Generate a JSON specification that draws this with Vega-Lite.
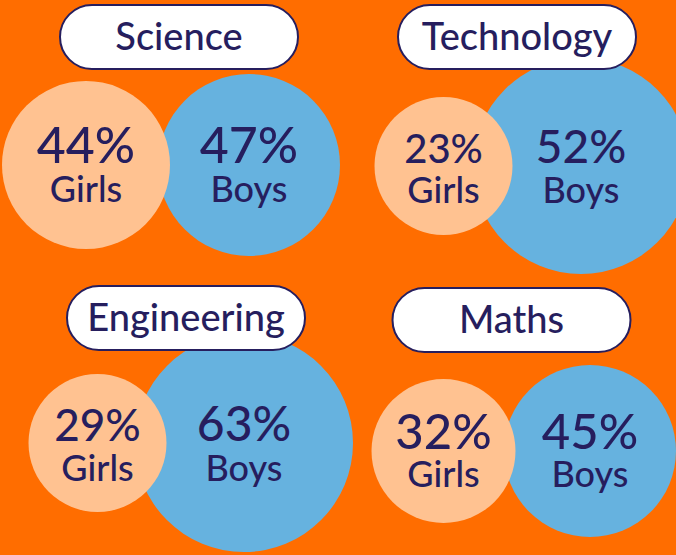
{
  "$schema": "https://vega.github.io/schema/vega-lite/v6.json",
  "background": "#FF6D00",
  "padding": 0,
  "spacing": 0,
  "config": {"view": {"stroke": null}, "font": "Lato", "text": {"fontWeight": 500}, "concat": {"spacing": 0}},
  "datasets": {
    "shares": [
      {"subject": "Science", "gender": "Girls", "share": 0.44},
      {"subject": "Science", "gender": "Boys", "share": 0.47},
      {"subject": "Technology", "gender": "Girls", "share": 0.23},
      {"subject": "Technology", "gender": "Boys", "share": 0.52},
      {"subject": "Engineering", "gender": "Girls", "share": 0.29},
      {"subject": "Engineering", "gender": "Boys", "share": 0.63},
      {"subject": "Maths", "gender": "Girls", "share": 0.32},
      {"subject": "Maths", "gender": "Boys", "share": 0.45}
    ],
    "subjects": [
      {"subject": "Science"},
      {"subject": "Technology"},
      {"subject": "Engineering"},
      {"subject": "Maths"}
    ]
  },
  "vconcat": [
    {
      "spacing": 0,
      "bounds": "flush",
      "hconcat": [
        {
          "width": 358, "height": 278,
          "resolve": {"scale": {"size": "independent"}},
          "layer": [
            {
              "data": {"name": "shares"},
              "transform": [{"filter": "datum.subject === 'Science'"}],
              "mark": {"type": "point", "shape": "circle", "filled": true, "opacity": 1, "strokeWidth": 0},
              "encoding": {
                "x": {"field": "gender", "type": "nominal", "scale": {"type": "point", "padding": 0, "domain": ["Girls", "Boys"], "range": [86, 249]}, "axis": null},
                "y": {"datum": "figure", "type": "nominal", "scale": {"type": "point", "padding": 0, "domain": ["title", "figure"], "range": [34, 162]}, "axis": null},
                "size": {"field": "share", "type": "quantitative", "scale": {"domain": [0.44, 0.47], "range": [28224, 33124]}, "legend": null},
                "color": {"field": "gender", "type": "nominal", "scale": {"domain": ["Girls", "Boys"], "range": ["#FFC291", "#66B2DF"]}, "legend": null},
                "order": {"field": "gender", "type": "nominal", "sort": "ascending"}
              }
            },
            {
              "data": {"name": "shares"},
              "transform": [{"filter": "datum.subject === 'Science'"}],
              "mark": {"type": "text", "baseline": "alphabetic", "align": "center", "dy": -2, "fontSize": 50, "color": "#261E5E"},
              "encoding": {
                "x": {"field": "gender", "type": "nominal"},
                "y": {"datum": "figure", "type": "nominal"},
                "text": {"field": "share", "type": "quantitative", "format": ".0%"}
              }
            },
            {
              "data": {"name": "shares"},
              "transform": [{"filter": "datum.subject === 'Science'"}],
              "mark": {"type": "text", "baseline": "alphabetic", "align": "center", "dy": 37, "fontSize": 36, "color": "#261E5E"},
              "encoding": {
                "x": {"field": "gender", "type": "nominal"},
                "y": {"datum": "figure", "type": "nominal"},
                "text": {"field": "gender", "type": "nominal"}
              }
            },
            {
              "data": {"name": "subjects"},
              "transform": [{"filter": "datum.subject === 'Science'"}],
              "mark": {"type": "point", "shape": "M -0.731 -0.269 L 0.731 -0.269 C 0.8796 -0.269 1 -0.1486 1 0 C 1 0.1486 0.8796 0.269 0.731 0.269 L -0.731 0.269 C -0.8796 0.269 -1 0.1486 -1 0 C -1 -0.1486 -0.8796 -0.269 -0.731 -0.269 Z", "filled": true, "fill": "#FFFFFF", "stroke": "#261E5E", "strokeWidth": 2, "opacity": 1, "size": 56644},
              "encoding": {
                "y": {"datum": "title", "type": "nominal"}
              }
            },
            {
              "data": {"name": "subjects"},
              "transform": [{"filter": "datum.subject === 'Science'"}],
              "mark": {"type": "text", "baseline": "alphabetic", "align": "center", "dy": 13, "fontSize": 38, "color": "#261E5E"},
              "encoding": {
                "y": {"datum": "title", "type": "nominal"},
                "text": {"field": "subject", "type": "nominal"}
              }
            }
          ]
        },
        {
          "width": 318, "height": 278,
          "resolve": {"scale": {"size": "independent"}},
          "layer": [
            {
              "data": {"name": "shares"},
              "transform": [{"filter": "datum.subject === 'Technology'"}],
              "mark": {"type": "point", "shape": "circle", "filled": true, "opacity": 1, "strokeWidth": 0, "clip": true},
              "encoding": {
                "x": {"field": "gender", "type": "nominal", "scale": {"type": "point", "padding": 0, "domain": ["Girls", "Boys"], "range": [85.5, 223]}, "axis": null},
                "y": {"datum": "figure", "type": "nominal", "scale": {"type": "point", "padding": 0, "domain": ["title", "figure"], "range": [34, 163]}, "axis": null},
                "size": {"field": "share", "type": "quantitative", "scale": {"domain": [0.23, 0.52], "range": [19044, 46656]}, "legend": null},
                "color": {"field": "gender", "type": "nominal", "scale": {"domain": ["Girls", "Boys"], "range": ["#FFC291", "#66B2DF"]}, "legend": null},
                "order": {"field": "gender", "type": "nominal", "sort": "ascending"}
              }
            },
            {
              "data": {"name": "shares"},
              "transform": [{"filter": "datum.subject === 'Technology'"}],
              "mark": {"type": "text", "baseline": "alphabetic", "align": "center", "dy": -3, "color": "#261E5E"},
              "encoding": {
                "x": {"field": "gender", "type": "nominal"},
                "y": {"datum": "figure", "type": "nominal"},
                "text": {"field": "share", "type": "quantitative", "format": ".0%"},
                "size": {"field": "share", "type": "quantitative", "scale": {"domain": [0.23, 0.52], "range": [40, 46]}, "legend": null}
              }
            },
            {
              "data": {"name": "shares"},
              "transform": [{"filter": "datum.subject === 'Technology'"}],
              "mark": {"type": "text", "baseline": "alphabetic", "align": "center", "dy": 37, "fontSize": 36, "color": "#261E5E"},
              "encoding": {
                "x": {"field": "gender", "type": "nominal"},
                "y": {"datum": "figure", "type": "nominal"},
                "text": {"field": "gender", "type": "nominal"}
              }
            },
            {
              "data": {"name": "subjects"},
              "transform": [{"filter": "datum.subject === 'Technology'"}],
              "mark": {"type": "point", "shape": "M -0.731 -0.269 L 0.731 -0.269 C 0.8796 -0.269 1 -0.1486 1 0 C 1 0.1486 0.8796 0.269 0.731 0.269 L -0.731 0.269 C -0.8796 0.269 -1 0.1486 -1 0 C -1 -0.1486 -0.8796 -0.269 -0.731 -0.269 Z", "filled": true, "fill": "#FFFFFF", "stroke": "#261E5E", "strokeWidth": 2, "opacity": 1, "size": 56644},
              "encoding": {
                "y": {"datum": "title", "type": "nominal"}
              }
            },
            {
              "data": {"name": "subjects"},
              "transform": [{"filter": "datum.subject === 'Technology'"}],
              "mark": {"type": "text", "baseline": "alphabetic", "align": "center", "dy": 13, "fontSize": 38, "color": "#261E5E"},
              "encoding": {
                "y": {"datum": "title", "type": "nominal"},
                "text": {"field": "subject", "type": "nominal"}
              }
            }
          ]
        }
      ]
    },
    {
      "spacing": 0,
      "bounds": "flush",
      "hconcat": [
        {
          "width": 372, "height": 277,
          "resolve": {"scale": {"size": "independent"}},
          "layer": [
            {
              "data": {"name": "shares"},
              "transform": [{"filter": "datum.subject === 'Engineering'"}],
              "mark": {"type": "point", "shape": "circle", "filled": true, "opacity": 1, "strokeWidth": 0},
              "encoding": {
                "x": {"field": "gender", "type": "nominal", "scale": {"type": "point", "padding": 0, "domain": ["Girls", "Boys"], "range": [97.5, 244]}, "axis": null},
                "y": {"datum": "figure", "type": "nominal", "scale": {"type": "point", "padding": 0, "domain": ["title", "figure"], "range": [37, 162]}, "axis": null},
                "size": {"field": "share", "type": "quantitative", "scale": {"domain": [0.29, 0.63], "range": [19044, 47524]}, "legend": null},
                "color": {"field": "gender", "type": "nominal", "scale": {"domain": ["Girls", "Boys"], "range": ["#FFC291", "#66B2DF"]}, "legend": null},
                "order": {"field": "gender", "type": "nominal", "sort": "ascending"}
              }
            },
            {
              "data": {"name": "shares"},
              "transform": [{"filter": "datum.subject === 'Engineering'"}],
              "mark": {"type": "text", "baseline": "alphabetic", "align": "center", "dy": -2, "color": "#261E5E"},
              "encoding": {
                "x": {"field": "gender", "type": "nominal"},
                "y": {"datum": "figure", "type": "nominal"},
                "text": {"field": "share", "type": "quantitative", "format": ".0%"},
                "size": {"field": "share", "type": "quantitative", "scale": {"domain": [0.29, 0.63], "range": [44, 48]}, "legend": null}
              }
            },
            {
              "data": {"name": "shares"},
              "transform": [{"filter": "datum.subject === 'Engineering'"}],
              "mark": {"type": "text", "baseline": "alphabetic", "align": "center", "dy": 38, "fontSize": 36, "color": "#261E5E"},
              "encoding": {
                "x": {"field": "gender", "type": "nominal"},
                "y": {"datum": "figure", "type": "nominal"},
                "text": {"field": "gender", "type": "nominal"}
              }
            },
            {
              "data": {"name": "subjects"},
              "transform": [{"filter": "datum.subject === 'Engineering'"}],
              "mark": {"type": "point", "shape": "M -0.731 -0.269 L 0.731 -0.269 C 0.8796 -0.269 1 -0.1486 1 0 C 1 0.1486 0.8796 0.269 0.731 0.269 L -0.731 0.269 C -0.8796 0.269 -1 0.1486 -1 0 C -1 -0.1486 -0.8796 -0.269 -0.731 -0.269 Z", "filled": true, "fill": "#FFFFFF", "stroke": "#261E5E", "strokeWidth": 2, "opacity": 1, "size": 56644},
              "encoding": {
                "y": {"datum": "title", "type": "nominal"}
              }
            },
            {
              "data": {"name": "subjects"},
              "transform": [{"filter": "datum.subject === 'Engineering'"}],
              "mark": {"type": "text", "baseline": "alphabetic", "align": "center", "dy": 13, "fontSize": 38, "color": "#261E5E"},
              "encoding": {
                "y": {"datum": "title", "type": "nominal"},
                "text": {"field": "subject", "type": "nominal"}
              }
            }
          ]
        },
        {
          "width": 279, "height": 277,
          "resolve": {"scale": {"size": "independent"}},
          "layer": [
            {
              "data": {"name": "shares"},
              "transform": [{"filter": "datum.subject === 'Maths'"}],
              "mark": {"type": "point", "shape": "circle", "filled": true, "opacity": 1, "strokeWidth": 0},
              "encoding": {
                "x": {"field": "gender", "type": "nominal", "scale": {"type": "point", "padding": 0, "domain": ["Girls", "Boys"], "range": [71.5, 218]}, "axis": null},
                "y": {"datum": "figure", "type": "nominal", "scale": {"type": "point", "padding": 0, "domain": ["title", "figure"], "range": [39, 170]}, "axis": null},
                "size": {"field": "share", "type": "quantitative", "scale": {"domain": [0.32, 0.45], "range": [20736, 29584]}, "legend": null},
                "color": {"field": "gender", "type": "nominal", "scale": {"domain": ["Girls", "Boys"], "range": ["#FFC291", "#66B2DF"]}, "legend": null},
                "order": {"field": "gender", "type": "nominal", "sort": "ascending"}
              }
            },
            {
              "data": {"name": "shares"},
              "transform": [{"filter": "datum.subject === 'Maths'"}],
              "mark": {"type": "text", "baseline": "alphabetic", "align": "center", "dy": -2, "fontSize": 49, "color": "#261E5E"},
              "encoding": {
                "x": {"field": "gender", "type": "nominal"},
                "y": {"datum": "figure", "type": "nominal"},
                "text": {"field": "share", "type": "quantitative", "format": ".0%"}
              }
            },
            {
              "data": {"name": "shares"},
              "transform": [{"filter": "datum.subject === 'Maths'"}],
              "mark": {"type": "text", "baseline": "alphabetic", "align": "center", "dy": 36, "fontSize": 36, "color": "#261E5E"},
              "encoding": {
                "x": {"field": "gender", "type": "nominal"},
                "y": {"datum": "figure", "type": "nominal"},
                "text": {"field": "gender", "type": "nominal"}
              }
            },
            {
              "data": {"name": "subjects"},
              "transform": [{"filter": "datum.subject === 'Maths'"}],
              "mark": {"type": "point", "shape": "M -0.731 -0.269 L 0.731 -0.269 C 0.8796 -0.269 1 -0.1486 1 0 C 1 0.1486 0.8796 0.269 0.731 0.269 L -0.731 0.269 C -0.8796 0.269 -1 0.1486 -1 0 C -1 -0.1486 -0.8796 -0.269 -0.731 -0.269 Z", "filled": true, "fill": "#FFFFFF", "stroke": "#261E5E", "strokeWidth": 2, "opacity": 1, "size": 56644},
              "encoding": {
                "y": {"datum": "title", "type": "nominal"}
              }
            },
            {
              "data": {"name": "subjects"},
              "transform": [{"filter": "datum.subject === 'Maths'"}],
              "mark": {"type": "text", "baseline": "alphabetic", "align": "center", "dy": 13, "fontSize": 38, "color": "#261E5E"},
              "encoding": {
                "y": {"datum": "title", "type": "nominal"},
                "text": {"field": "subject", "type": "nominal"}
              }
            }
          ]
        }
      ]
    }
  ]
}
